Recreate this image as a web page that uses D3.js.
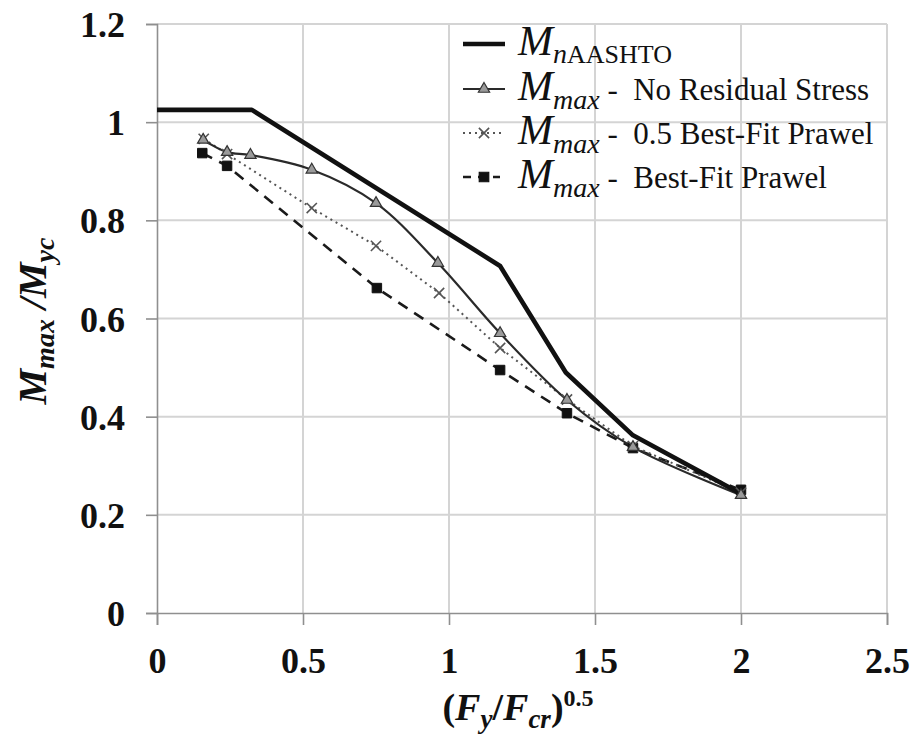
<!DOCTYPE html>
<html>
    <head>
        <meta charset="UTF-8" />
        <title>Mmax / Myc vs slenderness</title>
    </head>
    <body style="margin: 0; background: #fff">
        <script src="https://d3js.org/d3.v7.min.js"></script>
        <script type="text/javascript">
            // values
            var xTicks = [0, 0.5, 1, 1.5, 2, 2.5];
            var yTicks = [0, 0.2, 0.4, 0.6, 0.8, 1, 1.2];

            var aashtoX = [0, 0.325, 1.175, 1.4, 1.63, 2.0];
            var aashtoY = [1.025, 1.025, 0.707, 0.49, 0.362, 0.243];

            var noResX = [0.158, 0.24, 0.32, 0.53, 0.75, 0.962, 1.175, 1.404, 1.63, 2.0];
            var noResY = [0.964, 0.939, 0.933, 0.903, 0.835, 0.713, 0.57, 0.434, 0.338, 0.24];

            var halfFitX = [0.16, 0.24, 0.53, 0.75, 0.966, 1.175, 1.404, 1.63, 2.0];
            var halfFitY = [0.966, 0.935, 0.825, 0.748, 0.652, 0.54, 0.435, 0.34, 0.245];

            var fitX = [0.155, 0.24, 0.753, 1.175, 1.404, 1.63, 2.0];
            var fitY = [0.937, 0.911, 0.662, 0.495, 0.407, 0.336, 0.251];

            var SERIF = "'Liberation Serif', 'Times New Roman', serif";

            function zip(xs, ys) {
                return xs.map(function(d, i) {
                    return [d, ys[i]];
                });
            }

            var svg = d3
                .select("body")
                .append("svg")
                .attr("width", 916)
                .attr("height", 740)
                .style("font-family", SERIF);

            var x = d3.scaleLinear().domain([0, 2.5]).range([157, 887]);
            var y = d3.scaleLinear().domain([0, 1.2]).range([613, 24]);

            // grid
            svg.append("g")
                .selectAll("line")
                .data(yTicks.slice(1))
                .join("line")
                .attr("x1", x(0))
                .attr("x2", x(2.5))
                .attr("y1", function(d) { return y(d); })
                .attr("y2", function(d) { return y(d); })
                .attr("stroke", "#d4d4d4")
                .attr("stroke-width", 2);

            svg.append("g")
                .selectAll("line")
                .data(xTicks.slice(1))
                .join("line")
                .attr("y1", y(0))
                .attr("y2", y(1.2))
                .attr("x1", function(d) { return x(d); })
                .attr("x2", function(d) { return x(d); })
                .attr("stroke", "#d4d4d4")
                .attr("stroke-width", 2);

            // axes
            var xAxis = svg.append("g")
                .attr("transform", "translate(0," + y(0) + ")")
                .call(d3.axisBottom(x).tickValues(xTicks).tickSizeOuter(0).tickSize(12).tickPadding(22)
                    .tickFormat(function(d) { return d; }));

            var yAxis = svg.append("g")
                .attr("transform", "translate(" + x(0) + ",0)")
                .call(d3.axisLeft(y).tickValues(yTicks).tickSizeOuter(0).tickSize(11).tickPadding(21)
                    .tickFormat(function(d) { return d; }));

            [xAxis, yAxis].forEach(function(g) {
                g.attr("font-family", null);
                g.select(".domain").attr("stroke", "#8f8f8f").attr("stroke-width", 1.6);
                g.selectAll(".tick line").attr("stroke", "#8f8f8f").attr("stroke-width", 1.6);
                g.selectAll(".tick text")
                    .attr("fill", "#111")
                    .style("font-family", SERIF)
                    .style("font-size", "36px")
                    .style("font-weight", "bold");
            });
            yAxis.selectAll(".tick text").attr("dy", "0.35em");
            xAxis.selectAll(".tick text").attr("dy", "0.71em");

            // series
            var line = d3.line()
                .x(function(d) { return x(d[0]); })
                .y(function(d) { return y(d[1]); });

            var plot = svg.append("g");

            plot.append("path")
                .attr("d", line(zip(fitX, fitY)))
                .attr("fill", "none")
                .attr("stroke", "#1a1a1a")
                .attr("stroke-width", 2.6)
                .attr("stroke-dasharray", "11,8");

            plot.append("path")
                .attr("d", line(zip(halfFitX, halfFitY)))
                .attr("fill", "none")
                .attr("stroke", "#555")
                .attr("stroke-width", 2)
                .attr("stroke-dasharray", "2,4");

            plot.append("path")
                .attr("d", line.curve(d3.curveCatmullRom)(zip(noResX, noResY)))
                .attr("fill", "none")
                .attr("stroke", "#2a2a2a")
                .attr("stroke-width", 2.2);
            line.curve(d3.curveLinear);

            plot.append("path")
                .attr("d", line(zip(aashtoX, aashtoY)))
                .attr("fill", "none")
                .attr("stroke", "#111")
                .attr("stroke-width", 4.6)
                .attr("stroke-linejoin", "round");

            var tri = d3.symbol().type(d3.symbolTriangle).size(55);
            var cross = d3.symbol().type(d3.symbolX).size(70);
            var square = d3.symbol().type(d3.symbolSquare).size(90);

            function markers(data, sym, fill, stroke, sw) {
                plot.append("g")
                    .selectAll("path")
                    .data(data)
                    .join("path")
                    .attr("transform", function(d) {
                        return "translate(" + x(d[0]) + "," + y(d[1]) + ")";
                    })
                    .attr("d", sym)
                    .attr("fill", fill)
                    .attr("stroke", stroke)
                    .attr("stroke-width", sw);
            }

            markers(zip(fitX, fitY), square, "#111", "#111", 1);
            markers(zip(halfFitX, halfFitY), cross, "none", "#555", 1.6);
            markers(zip(noResX, noResY), tri, "#9a9a9a", "#333", 1.2);

            // legend
            var legendNames = [
                null,
                "No Residual Stress",
                "0.5 Best-Fit Prawel",
                "Best-Fit Prawel"
            ];
            var rowY = [55, 100, 144, 188];
            var leg = svg.append("g");

            legendNames.forEach(function(name, i) {
                var cy = rowY[i] - 11;
                var s = leg.append("line")
                    .attr("x1", 463)
                    .attr("x2", 505)
                    .attr("y1", cy)
                    .attr("y2", cy);
                if (i === 0) s.attr("stroke", "#111").attr("stroke-width", 4.6);
                if (i === 1) s.attr("stroke", "#2a2a2a").attr("stroke-width", 2.2);
                if (i === 2) s.attr("stroke", "#555").attr("stroke-width", 2).attr("stroke-dasharray", "2,4");
                if (i === 3) s.attr("stroke", "#1a1a1a").attr("stroke-width", 2.6).attr("stroke-dasharray", "8,7").attr("x2", 500);

                var sym = [null, tri, cross, square][i];
                var fills = [null, "#9a9a9a", "none", "#111"];
                var strokes = [null, "#333", "#555", "#111"];
                if (sym) {
                    leg.append("path")
                        .attr("transform", "translate(484," + cy + ")")
                        .attr("d", sym)
                        .attr("fill", fills[i])
                        .attr("stroke", strokes[i])
                        .attr("stroke-width", i === 2 ? 1.6 : 1.2);
                }

                var t = leg.append("text")
                    .attr("x", 518)
                    .attr("y", rowY[i])
                    .attr("fill", "#111")
                    .style("font-family", SERIF)
                    .style("white-space", "pre");
                t.append("tspan")
                    .style("font-style", "italic")
                    .style("font-size", "42px")
                    .text("M");
                if (i === 0) {
                    t.append("tspan")
                        .attr("dy", 8)
                        .style("font-style", "italic")
                        .style("font-size", "28px")
                        .text("n");
                    t.append("tspan")
                        .style("font-size", "26px")
                        .text("AASHTO");
                } else {
                    t.append("tspan")
                        .attr("dy", 9)
                        .style("font-style", "italic")
                        .style("font-size", "28px")
                        .text("max");
                    t.append("tspan")
                        .attr("dy", -9)
                        .style("font-size", "31px")
                        .text(" -  " + name);
                }
            });

            // axis titles
            var xt = svg.append("text")
                .attr("x", 518)
                .attr("y", 720)
                .attr("text-anchor", "middle")
                .attr("fill", "#111")
                .style("font-family", SERIF)
                .style("font-size", "38px")
                .style("font-weight", "bold");
            xt.append("tspan").text("(");
            xt.append("tspan").style("font-style", "italic").text("F");
            xt.append("tspan").attr("dy", 8).style("font-style", "italic").style("font-size", "27px").text("y");
            xt.append("tspan").attr("dy", -8).text("/");
            xt.append("tspan").style("font-style", "italic").text("F");
            xt.append("tspan").attr("dy", 8).style("font-style", "italic").style("font-size", "27px").text("cr");
            xt.append("tspan").attr("dy", -8).text(")");
            xt.append("tspan").attr("dy", -14).style("font-size", "24px").text("0.5");

            var yt = svg.append("text")
                .attr("transform", "translate(46,321) rotate(-90)")
                .attr("text-anchor", "middle")
                .attr("fill", "#111")
                .style("font-family", SERIF)
                .style("font-size", "40px")
                .style("font-weight", "bold")
                .style("font-style", "italic");
            yt.append("tspan").text("M");
            yt.append("tspan").attr("dy", 8).style("font-size", "28px").text("max");
            yt.append("tspan").attr("dy", -8).text(" /M");
            yt.append("tspan").attr("dy", 8).style("font-size", "28px").text("yc");
        </script>
    </body>
</html>
